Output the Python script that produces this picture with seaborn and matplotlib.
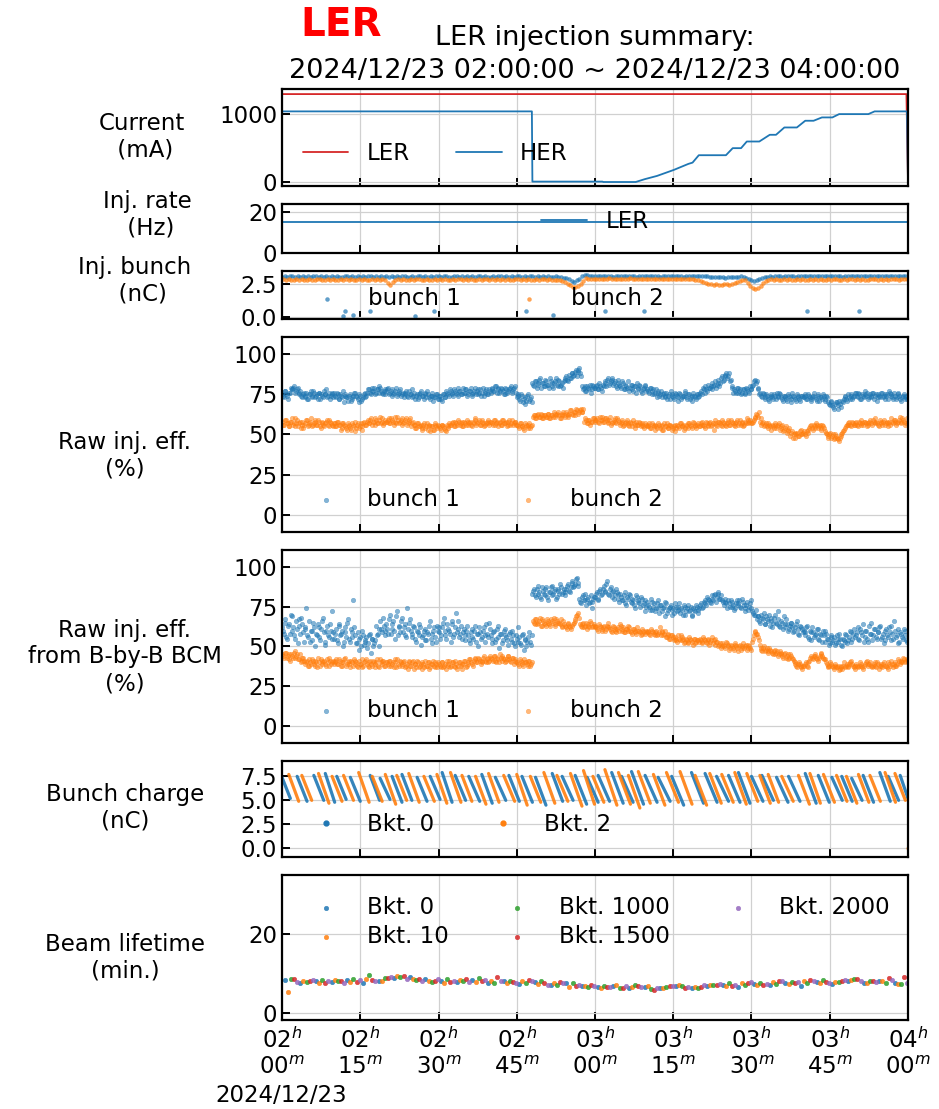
import numpy as np
import pandas as pd
import matplotlib
matplotlib.use('Agg')
import matplotlib.pyplot as plt
import matplotlib.dates as mdates
from matplotlib.lines import Line2D
import seaborn as sns

t_start = pd.Timestamp('2024-12-23 02:00:00')
t_end = pd.Timestamp('2024-12-23 04:00:00')

# ---------------- data (times in minutes after 02:00) ----------------
# stored beam current (mA)
ler_current_min = [0.0, 119.7, 120.0]
ler_current = [1290, 1290, 0]
her_current_min = [0.0, 47.9, 48.0, 61.4, 61.6, 67.8, 69.5, 71.9, 75.1, 77.9, 78.7, 79.9,
                   85.1, 86.4, 88.0, 89.1, 91.5, 93.5, 94.7, 96.3, 98.7, 100.3, 101.9,
                   103.5, 105.5, 106.8, 112.4, 113.6, 119.8, 120.0]
her_current = [1035, 1035, 0, 0, -6, -6, 35, 84, 172, 261, 280, 389,
               389, 493, 493, 591, 591, 690, 690, 798, 798, 897, 897,
               946, 946, 995, 995, 1035, 1035, 0]

# injection rate (Hz)
inj_rate_min = [0.0, 120.0]
inj_rate = [15, 15]

# injected bunch charge (nC), one value every 30 s
inj_bunch1 = [
    3.03, 3.06, 3.01, 3.05, 3.08, 3.02, 3.04, 3.00, 3.07, 3.03, 3.05, 3.01, 3.06, 3.04, 3.02, 3.08, 3.03, 3.05, 3.00, 3.04,
    3.02, 3.06, 3.03, 3.01, 3.05, 3.07, 3.02, 3.04, 3.00, 3.06, 3.03, 3.05, 3.02, 3.07, 3.04, 3.01, 3.05, 3.03, 3.06, 3.02,
    3.04, 3.01, 3.05, 3.03, 3.07, 3.02, 3.04, 3.06, 3.00, 3.03, 3.05, 3.02, 3.06, 3.04, 3.01, 3.05, 3.03, 3.07, 3.02, 3.04,
    3.05, 3.02, 3.04, 3.06, 3.01, 3.03, 3.07, 3.04, 3.02, 3.05, 3.03, 3.06, 3.01, 3.04, 3.02, 3.05, 3.07, 3.03, 3.04, 3.01,
    3.03, 3.05, 3.02, 3.06, 3.04, 3.01, 3.05, 3.03, 3.07, 3.02, 3.04, 3.06, 3.03, 3.05, 3.01, 3.04, 3.06, 3.02, 3.05, 3.03,
    3.04, 3.02, 3.05, 3.03, 3.01, 3.04, 3.02, 2.98, 2.95, 2.90, 2.82, 2.72, 2.66, 2.75, 2.88, 3.10, 3.18, 3.14, 3.09, 3.07,
    3.06, 3.08, 3.05, 3.07, 3.04, 3.09, 3.06, 3.03, 3.07, 3.05, 3.08, 3.04, 3.06, 3.09, 3.05, 3.07, 3.03, 3.06, 3.08, 3.05,
    3.07, 3.04, 3.06, 3.08, 3.05, 3.03, 3.07, 3.05, 3.09, 3.04, 3.06, 3.08, 3.05, 3.07, 3.03, 3.06, 3.04, 3.08, 3.05, 3.07,
    3.05, 3.07, 3.04, 3.06, 3.02, 2.98, 3.00, 2.97, 3.01, 2.99, 2.96, 3.00, 2.98, 3.02, 2.99, 3.03, 3.05, 3.02, 2.95, 2.85,
    2.75, 2.70, 2.78, 2.88, 2.95, 3.00, 3.03, 3.05, 3.02, 3.06, 3.04, 3.07, 3.03, 3.05, 3.08, 3.04, 3.06, 3.03, 3.07, 3.05,
    3.06, 3.04, 3.07, 3.05, 3.08, 3.04, 3.06, 3.09, 3.05, 3.07, 3.04, 3.06, 3.08, 3.05, 3.07, 3.03, 3.06, 3.08, 3.05, 3.07,
    3.05, 3.08, 3.06, 3.04, 3.07, 3.05, 3.09, 3.06, 3.04, 3.07, 3.05, 3.08, 3.06, 3.04, 3.07, 3.09, 3.05, 3.07, 3.06, 3.08,
]
inj_bunch2 = [
    2.82, 2.78, 2.85, 2.80, 2.76, 2.83, 2.79, 2.86, 2.81, 2.77, 2.84, 2.80, 2.78, 2.85, 2.82, 2.79, 2.75, 2.83, 2.80, 2.86,
    2.81, 2.77, 2.84, 2.79, 2.82, 2.76, 2.85, 2.80, 2.78, 2.83, 2.79, 2.86, 2.81, 2.77, 2.84, 2.80, 2.82, 2.78, 2.85, 2.79,
    2.55, 2.40, 2.62, 2.80, 2.83, 2.78, 2.85, 2.81, 2.77, 2.84, 2.79, 2.82, 2.86, 2.80, 2.76, 2.83, 2.81, 2.78, 2.85, 2.80,
    2.83, 2.79, 2.85, 2.81, 2.77, 2.84, 2.80, 2.86, 2.82, 2.78, 2.83, 2.80, 2.85, 2.81, 2.77, 2.84, 2.79, 2.82, 2.86, 2.80,
    2.82, 2.78, 2.85, 2.80, 2.83, 2.77, 2.84, 2.81, 2.79, 2.86, 2.82, 2.78, 2.83, 2.80, 2.85, 2.81, 2.77, 2.84, 2.80, 2.82,
    2.84, 2.80, 2.83, 2.78, 2.81, 2.79, 2.76, 2.70, 2.62, 2.50, 2.38, 2.28, 2.22, 2.30, 2.45, 2.68, 2.90, 2.87, 2.84, 2.86,
    2.88, 2.84, 2.87, 2.83, 2.86, 2.89, 2.85, 2.82, 2.87, 2.84, 2.88, 2.83, 2.86, 2.89, 2.84, 2.87, 2.82, 2.85, 2.88, 2.84,
    2.86, 2.83, 2.87, 2.84, 2.88, 2.82, 2.85, 2.87, 2.83, 2.86, 2.84, 2.88, 2.82, 2.85, 2.87, 2.83, 2.86, 2.84, 2.80, 2.76,
    2.72, 2.66, 2.58, 2.50, 2.46, 2.42, 2.48, 2.44, 2.40, 2.45, 2.50, 2.43, 2.47, 2.52, 2.60, 2.72, 2.80, 2.75, 2.55, 2.35,
    2.18, 2.12, 2.20, 2.35, 2.55, 2.70, 2.78, 2.82, 2.79, 2.84, 2.81, 2.78, 2.83, 2.80, 2.85, 2.81, 2.78, 2.83, 2.80, 2.84,
    2.81, 2.78, 2.84, 2.80, 2.83, 2.79, 2.85, 2.81, 2.78, 2.84, 2.80, 2.82, 2.86, 2.81, 2.79, 2.84, 2.80, 2.83, 2.85, 2.81,
    2.83, 2.80, 2.85, 2.81, 2.78, 2.84, 2.82, 2.86, 2.80, 2.83, 2.81, 2.85, 2.79, 2.84, 2.82, 2.86, 2.80, 2.83, 2.85, 2.82,
]
# bunch 1 shots with almost no charge
inj_low_min = [11.7, 12.1, 13.7, 16.8, 25.5, 29.1, 46.8, 51.9, 62.0, 69.4, 100.7, 110.6]
inj_low = [0.12, 0.50, 0.20, 0.50, 0.12, 0.50, 0.50, 0.20, 0.50, 0.50, 0.50, 0.45]

# raw injection efficiency (%): two interleaved readings, each one value every 20 s
raw_eff_b1 = [
    75, 73, 77, 74, 76, 79, 78, 80, 77, 79, 76, 74, 75, 73, 76, 72, 75, 74, 77, 73, 75, 76, 72, 74, 77, 75, 73, 76, 74, 75,
    76, 73, 75, 72, 74, 77, 74, 73, 71, 75, 72, 74, 76, 73, 70, 74, 72, 75, 73, 76, 78, 75, 77, 79, 76, 78, 80, 77, 75, 78,
    77, 79, 76, 78, 75, 77, 74, 76, 78, 75, 73, 76, 74, 77, 75, 73, 76, 74, 72, 75, 77, 74, 76, 73, 75, 72, 74, 71, 73, 75,
    72, 74, 71, 75, 73, 76, 74, 77, 75, 78, 76, 74, 77, 75, 79, 76, 78, 75, 77, 74, 76, 79, 77, 75, 78, 76, 74, 77, 75, 78,
    76, 79, 77, 80, 78, 76, 79, 77, 75, 78, 77, 79, 76, 78, 80, 73, 75, 71, 74, 72, 69, 74, 71, 73, 82, 80, 83, 81, 84, 79,
    82, 80, 83, 81, 85, 82, 79, 83, 81, 84, 80, 82, 83, 85, 84, 87, 85, 88, 87, 90, 89, 91, 86, 78, 80, 77, 79, 81, 78, 80,
    79, 81, 78, 80, 77, 80, 82, 84, 81, 83, 85, 82, 80, 84, 81, 79, 82, 78, 80, 83, 79, 81, 77, 80, 82, 78, 80, 76, 79, 81,
    78, 76, 79, 77, 75, 78, 76, 74, 77, 75, 73, 76, 74, 72, 75, 73, 76, 74, 71, 75, 73, 74, 76, 72, 75, 73, 71, 74, 72, 75,
    74, 77, 79, 76, 78, 81, 79, 82, 80, 83, 81, 84, 82, 86, 84, 87, 85, 88, 84, 79, 78, 76, 79, 77, 75, 78, 76, 79, 77, 80,
    78, 81, 84, 83, 79, 76, 73, 75, 72, 74, 71, 74, 73, 75, 72, 74, 76, 73, 71, 74, 72, 75, 73, 70, 74, 72, 75, 73, 71, 74,
    73, 75, 72, 74, 71, 73, 76, 72, 74, 71, 73, 75, 72, 74, 70, 68, 71, 67, 69, 70, 66, 69, 71, 72, 74, 71, 73, 75, 72, 74,
    76, 73, 75, 72, 74, 77, 74, 72, 75, 73, 76, 74, 71, 75, 73, 76, 74, 72, 75, 77, 74, 73, 76, 72, 75, 74, 71, 74, 72, 74,
]
raw_eff_b1_b = [
    74, 77, 75, 72, 76, 78, 79, 76, 78, 75, 77, 73, 76, 74, 72, 75, 77, 73, 76, 74, 72, 76, 75, 73, 75, 78, 74, 72, 76, 73,
    74, 76, 72, 75, 73, 70, 75, 73, 74, 71, 73, 76, 74, 72, 75, 71, 73, 76, 74, 78, 76, 79, 77, 75, 78, 76, 79, 76, 77, 75,
    78, 75, 77, 74, 76, 79, 75, 77, 74, 76, 75, 77, 73, 75, 78, 74, 72, 75, 73, 76, 74, 72, 75, 77, 73, 74, 76, 73, 75, 72,
    74, 72, 75, 73, 77, 75, 78, 76, 74, 77, 75, 79, 77, 75, 76, 78, 74, 77, 79, 75, 77, 75, 78, 76, 74, 79, 76, 78, 75, 77,
    78, 77, 80, 76, 79, 77, 78, 75, 79, 76, 78, 80, 77, 79, 76, 74, 72, 75, 70, 73, 71, 75, 72, 70, 81, 83, 79, 82, 85, 82,
    80, 84, 81, 79, 83, 80, 82, 85, 80, 83, 81, 79, 84, 86, 83, 85, 88, 86, 89, 86, 90, 88, 80, 79, 77, 80, 78, 76, 81, 79,
    80, 78, 82, 79, 81, 83, 80, 85, 82, 84, 81, 83, 79, 82, 80, 83, 78, 81, 79, 77, 81, 78, 80, 76, 79, 81, 77, 78, 80, 77,
    77, 79, 75, 78, 76, 73, 77, 75, 73, 76, 74, 72, 75, 77, 74, 72, 75, 73, 76, 72, 74, 77, 73, 75, 72, 74, 76, 73, 75, 73,
    76, 75, 78, 80, 77, 79, 80, 78, 81, 79, 82, 80, 85, 83, 86, 88, 86, 83, 80, 76, 77, 79, 76, 78, 76, 78, 75, 78, 76, 78,
    80, 83, 82, 78, 75, 74, 76, 73, 75, 72, 73, 75, 72, 74, 76, 73, 75, 72, 74, 73, 71, 74, 72, 76, 73, 71, 74, 72, 74, 73,
    74, 72, 75, 73, 72, 74, 73, 71, 75, 73, 72, 74, 71, 73, 69, 70, 68, 66, 70, 68, 71, 67, 70, 73, 72, 75, 72, 74, 73, 76,
    74, 76, 72, 75, 73, 75, 76, 73, 74, 76, 72, 75, 73, 74, 76, 73, 75, 74, 72, 76, 75, 72, 74, 73, 76, 72, 73, 75, 73, 72,
]
raw_eff_b2 = [
    58, 56, 59, 57, 55, 58, 56, 60, 57, 55, 58, 56, 54, 57, 59, 56, 58, 55, 57, 59, 56, 58, 54, 57, 55, 58, 56, 59, 57, 55,
    57, 55, 58, 56, 54, 57, 55, 53, 56, 54, 57, 55, 52, 56, 54, 57, 55, 58, 56, 59, 57, 60, 58, 56, 59, 57, 61, 58, 56, 59,
    58, 60, 57, 59, 56, 58, 61, 57, 59, 56, 58, 60, 57, 59, 55, 58, 56, 54, 57, 55, 53, 56, 54, 57, 55, 52, 55, 53, 56, 54,
    55, 53, 56, 54, 52, 55, 57, 56, 58, 55, 57, 59, 56, 58, 55, 57, 59, 56, 58, 55, 57, 60, 57, 59, 56, 58, 55, 57, 59, 56,
    58, 56, 59, 57, 55, 58, 56, 59, 57, 55, 58, 56, 59, 57, 58, 56, 54, 57, 55, 53, 56, 54, 57, 55, 61, 62, 60, 63, 61, 62,
    60, 62, 61, 63, 60, 62, 64, 61, 63, 62, 60, 63, 62, 64, 61, 63, 65, 62, 64, 66, 63, 65, 64, 66, 60, 57, 59, 56, 58, 60,
    58, 60, 57, 59, 61, 58, 60, 57, 59, 56, 58, 60, 57, 59, 56, 58, 55, 57, 59, 56, 58, 55, 57, 54, 56, 58, 55, 57, 54, 56,
    55, 57, 54, 56, 53, 55, 57, 54, 56, 53, 55, 57, 54, 56, 53, 55, 52, 56, 54, 57, 55, 53, 56, 54, 57, 55, 58, 56, 54, 57,
    55, 58, 56, 54, 57, 55, 58, 56, 53, 57, 55, 58, 56, 59, 57, 55, 58, 56, 59, 57, 55, 58, 56, 59, 57, 55, 58, 60, 57, 59,
    57, 59, 60, 62, 64, 60, 57, 55, 57, 54, 56, 53, 55, 57, 54, 56, 53, 55, 52, 54, 51, 53, 49, 52, 50, 48, 51, 49, 53, 50,
    52, 49, 51, 54, 56, 53, 55, 57, 54, 56, 53, 55, 52, 50, 48, 51, 49, 47, 50, 48, 46, 49, 51, 53, 55, 56, 58, 55, 57, 56,
    58, 55, 57, 59, 56, 58, 55, 57, 59, 56, 58, 60, 57, 55, 58, 56, 59, 57, 55, 58, 60, 57, 59, 56, 58, 61, 57, 59, 56, 60,
]
raw_eff_b2_b = [
    56, 59, 57, 55, 58, 60, 57, 55, 59, 57, 54, 58, 56, 59, 55, 57, 60, 56, 58, 56, 59, 55, 58, 56, 57, 59, 55, 58, 56, 57,
    55, 58, 56, 53, 57, 56, 54, 57, 55, 53, 56, 58, 54, 57, 55, 53, 57, 56, 58, 57, 59, 56, 58, 60, 57, 59, 57, 60, 57, 58,
    59, 57, 60, 58, 61, 57, 59, 58, 60, 57, 59, 56, 58, 60, 57, 56, 54, 57, 55, 56, 54, 57, 55, 53, 56, 55, 53, 57, 55, 56,
    54, 56, 55, 53, 56, 54, 56, 57, 55, 58, 56, 58, 57, 55, 58, 56, 58, 57, 56, 58, 59, 56, 58, 56, 59, 57, 56, 58, 57, 58,
    57, 59, 56, 58, 57, 56, 59, 57, 58, 56, 59, 57, 56, 58, 56, 55, 57, 55, 54, 57, 55, 56, 54, 56, 62, 60, 62, 61, 63, 60,
    62, 61, 63, 60, 62, 61, 63, 62, 64, 60, 62, 64, 61, 63, 62, 65, 63, 64, 62, 65, 64, 66, 64, 58, 59, 57, 59, 58, 60, 59,
    59, 58, 61, 59, 58, 60, 59, 58, 61, 57, 59, 58, 60, 58, 57, 59, 56, 58, 57, 55, 57, 59, 56, 58, 56, 57, 56, 55, 57, 55,
    56, 54, 57, 55, 56, 54, 56, 55, 53, 57, 55, 54, 56, 55, 54, 56, 54, 55, 57, 55, 56, 54, 55, 57, 56, 54, 57, 55, 56, 55,
    57, 56, 55, 58, 56, 57, 55, 57, 59, 56, 58, 57, 55, 58, 56, 57, 59, 56, 58, 56, 57, 59, 57, 56, 58, 56, 57, 59, 58, 57,
    58, 61, 63, 61, 58, 56, 58, 56, 55, 57, 55, 56, 54, 56, 55, 57, 54, 56, 53, 55, 52, 54, 51, 48, 51, 50, 49, 52, 50, 51,
    50, 52, 53, 55, 54, 56, 54, 56, 55, 54, 56, 54, 51, 49, 50, 48, 50, 48, 49, 47, 48, 50, 52, 54, 56, 57, 56, 58, 56, 57,
    56, 58, 56, 57, 58, 57, 56, 58, 57, 59, 57, 58, 56, 59, 57, 58, 56, 58, 57, 56, 58, 59, 58, 57, 59, 58, 60, 58, 57, 58,
]

# raw injection efficiency from bunch-by-bunch BCM (%): two interleaved readings every 20 s
bcm_eff_b1 = [
    62, 58, 67, 55, 64, 70, 60, 57, 66, 52, 63, 68, 59, 61, 74, 56, 53, 60, 65, 50, 57, 62, 54, 66, 59, 51, 63, 56, 60, 72,
    55, 61, 52, 64, 58, 50, 62, 56, 67, 53, 59, 79, 57, 52, 48, 56, 60, 51, 54, 49, 57, 46, 55, 52, 63, 58, 50, 61, 68, 57,
    64, 58, 70, 61, 66, 55, 72, 63, 59, 68, 62, 57, 74, 65, 60, 56, 62, 53, 59, 64, 51, 57, 61, 54, 58, 66, 52, 60, 56, 63,
    59, 55, 62, 68, 57, 64, 60, 53, 66, 58, 71, 61, 56, 63, 59, 54, 60, 57, 52, 61, 55, 63, 58, 50, 59, 56, 62, 53, 58, 65,
    57, 52, 60, 55, 63, 49, 58, 54, 61, 56, 51, 59, 53, 57, 50, 55, 62, 52, 57, 48, 55, 53, 59, 51, 83, 86, 81, 88, 84, 80,
    85, 82, 87, 79, 84, 88, 83, 86, 81, 85, 89, 83, 86, 84, 88, 85, 87, 91, 88, 92, 90, 80, 77, 82, 79, 76, 81, 78, 74, 80,
    81, 84, 79, 86, 83, 88, 85, 91, 82, 87, 84, 80, 86, 83, 78, 81, 79, 84, 76, 80, 82, 77, 79, 74, 81, 78, 75, 80, 77, 72,
    78, 75, 80, 73, 77, 74, 79, 71, 76, 74, 69, 77, 73, 75, 70, 74, 77, 72, 75, 71, 73, 76, 70, 74, 72, 75, 69, 73, 76, 71,
    74, 77, 75, 79, 76, 80, 78, 82, 79, 83, 81, 84, 80, 79, 76, 78, 74, 77, 79, 75, 73, 77, 76, 79, 74, 78, 72, 76, 73, 77,
    74, 71, 70, 67, 69, 65, 68, 71, 64, 67, 70, 66, 62, 68, 65, 72, 63, 66, 61, 64, 67, 60, 63, 65, 59, 62, 66, 58, 63, 61,
    60, 57, 63, 55, 59, 62, 56, 58, 61, 54, 57, 60, 53, 58, 55, 52, 56, 54, 51, 57, 53, 55, 50, 54, 58, 52, 56, 59, 55, 61,
    57, 62, 54, 59, 64, 56, 60, 53, 58, 65, 57, 61, 55, 59, 63, 56, 52, 60, 57, 62, 54, 58, 66, 56, 61, 53, 58, 55, 60, 54,
]
bcm_eff_b1_b = [
    60, 65, 56, 63, 58, 69, 62, 55, 61, 67, 58, 64, 53, 62, 57, 66, 60, 54, 62, 58, 64, 56, 61, 68, 53, 60, 57, 64, 55, 59,
    58, 54, 63, 57, 60, 53, 59, 65, 55, 61, 56, 62, 52, 59, 55, 50, 57, 53, 56, 52, 58, 55, 50, 54, 57, 61, 66, 59, 63, 60,
    61, 67, 58, 64, 60, 69, 57, 62, 66, 59, 64, 56, 61, 67, 58, 63, 55, 60, 57, 62, 56, 60, 54, 59, 63, 55, 58, 62, 53, 60,
    62, 57, 65, 60, 55, 61, 58, 64, 56, 62, 59, 66, 58, 55, 61, 57, 63, 54, 59, 56, 60, 53, 58, 62, 55, 60, 57, 64, 56, 61,
    55, 59, 53, 61, 56, 58, 52, 60, 57, 54, 58, 55, 60, 52, 57, 53, 56, 51, 58, 54, 50, 56, 53, 57, 85, 82, 86, 83, 81, 87,
    83, 86, 81, 84, 87, 82, 85, 80, 86, 83, 87, 84, 82, 86, 89, 84, 90, 87, 89, 93, 88, 78, 81, 79, 83, 80, 77, 82, 78, 81,
    83, 80, 85, 82, 86, 84, 89, 83, 86, 81, 85, 82, 84, 80, 83, 79, 82, 77, 81, 83, 78, 80, 76, 82, 79, 77, 81, 76, 79, 75,
    76, 73, 78, 75, 72, 77, 74, 76, 72, 75, 78, 71, 74, 76, 73, 71, 75, 73, 77, 74, 70, 75, 72, 76, 73, 70, 74, 72, 75, 73,
    76, 74, 78, 77, 81, 79, 77, 80, 82, 78, 83, 80, 82, 78, 80, 77, 79, 75, 78, 76, 74, 79, 77, 75, 80, 76, 74, 78, 75, 79,
    72, 70, 73, 69, 66, 70, 67, 64, 69, 66, 63, 68, 65, 70, 64, 67, 62, 65, 69, 62, 64, 61, 65, 62, 60, 64, 61, 57, 62, 59,
    59, 62, 56, 60, 54, 59, 57, 61, 55, 58, 53, 57, 60, 55, 51, 57, 53, 56, 52, 55, 58, 51, 55, 53, 57, 54, 60, 53, 58, 56,
    59, 55, 61, 57, 53, 60, 55, 63, 58, 54, 61, 56, 59, 62, 55, 58, 54, 61, 56, 59, 63, 55, 60, 57, 52, 59, 56, 61, 57, 53,
]
bcm_eff_b2 = [
    45, 43, 46, 44, 42, 45, 43, 47, 44, 42, 45, 41, 43, 39, 41, 38, 40, 42, 39, 41, 37, 40, 42, 39, 41, 38, 40, 43, 39, 41,
    40, 42, 39, 41, 38, 40, 43, 39, 41, 37, 40, 42, 39, 38, 41, 39, 37, 40, 42, 38, 40, 39, 41, 37, 40, 38, 42, 39, 41, 38,
    40, 38, 41, 39, 37, 40, 42, 38, 40, 39, 41, 38, 36, 40, 38, 41, 39, 37, 40, 38, 36, 39, 41, 38, 40, 37, 39, 38, 40, 37,
    39, 37, 40, 38, 36, 39, 41, 38, 40, 37, 39, 38, 40, 36, 39, 41, 38, 40, 42, 39, 41, 43, 40, 42, 39, 41, 44, 40, 43, 41,
    43, 41, 44, 40, 42, 45, 41, 43, 40, 42, 44, 41, 43, 39, 42, 40, 38, 41, 39, 42, 40, 38, 41, 39, 66, 64, 67, 65, 68, 63,
    66, 64, 67, 65, 63, 66, 68, 64, 66, 65, 67, 63, 64, 62, 65, 63, 61, 64, 66, 69, 71, 64, 62, 65, 63, 61, 64, 66, 62, 64,
    63, 61, 64, 62, 60, 63, 61, 65, 62, 60, 63, 61, 59, 62, 64, 60, 62, 59, 61, 63, 60, 58, 61, 59, 62, 60, 57, 61, 59, 60,
    60, 58, 61, 59, 57, 60, 58, 62, 59, 57, 60, 56, 58, 55, 57, 54, 56, 53, 55, 57, 54, 52, 55, 53, 56, 54, 51, 55, 53, 54,
    55, 53, 56, 54, 52, 55, 53, 56, 54, 51, 53, 51, 49, 52, 50, 53, 51, 48, 51, 49, 52, 50, 47, 51, 49, 52, 50, 48, 51, 49,
    53, 57, 60, 58, 54, 49, 47, 50, 48, 46, 49, 47, 45, 48, 46, 44, 47, 45, 43, 46, 44, 42, 45, 43, 41, 39, 37, 40, 38, 36,
    38, 40, 37, 41, 44, 42, 45, 43, 41, 44, 46, 43, 42, 39, 37, 40, 38, 36, 39, 37, 35, 38, 36, 40, 38, 37, 39, 41, 38, 36,
    39, 37, 40, 38, 36, 39, 41, 38, 40, 37, 39, 38, 40, 36, 39, 37, 40, 38, 36, 39, 41, 37, 40, 38, 42, 39, 41, 43, 40, 42,
]
bcm_eff_b2_b = [
    44, 46, 43, 45, 41, 44, 46, 43, 45, 42, 40, 43, 41, 40, 38, 42, 39, 41, 38, 40, 43, 38, 41, 40, 39, 42, 38, 41, 40, 39,
    41, 39, 42, 38, 40, 42, 38, 40, 39, 41, 38, 41, 40, 37, 39, 42, 38, 41, 39, 37, 41, 38, 40, 39, 42, 37, 40, 41, 38, 40,
    39, 41, 38, 40, 42, 37, 39, 41, 38, 40, 37, 39, 41, 38, 40, 36, 39, 41, 37, 39, 40, 37, 38, 40, 36, 39, 41, 37, 39, 40,
    38, 40, 37, 39, 41, 38, 37, 40, 38, 41, 36, 40, 38, 39, 41, 37, 39, 42, 40, 38, 42, 40, 43, 41, 40, 43, 41, 42, 40, 44,
    42, 44, 41, 43, 40, 43, 44, 42, 41, 44, 42, 40, 43, 41, 40, 39, 42, 40, 38, 40, 39, 41, 38, 40, 65, 67, 64, 66, 63, 67,
    65, 63, 66, 64, 67, 65, 63, 67, 65, 64, 62, 66, 63, 61, 64, 62, 63, 65, 67, 70, 68, 63, 64, 62, 65, 63, 62, 65, 63, 62,
    62, 60, 63, 61, 62, 60, 63, 62, 61, 59, 62, 60, 61, 60, 63, 61, 59, 61, 60, 62, 59, 61, 60, 58, 60, 59, 58, 60, 58, 59,
    59, 57, 60, 58, 59, 57, 59, 57, 60, 58, 56, 57, 55, 57, 56, 55, 54, 57, 54, 56, 55, 53, 54, 52, 55, 53, 55, 52, 54, 53,
    54, 52, 55, 53, 54, 51, 54, 52, 55, 53, 50, 52, 50, 51, 49, 52, 50, 49, 50, 48, 51, 49, 50, 48, 50, 49, 51, 49, 50, 48,
    55, 59, 58, 56, 51, 48, 49, 47, 49, 47, 48, 46, 47, 45, 47, 45, 46, 44, 45, 43, 45, 43, 44, 42, 40, 38, 39, 39, 37, 38,
    39, 38, 40, 43, 43, 44, 44, 42, 43, 45, 44, 42, 40, 38, 38, 39, 37, 38, 37, 38, 36, 37, 38, 37, 39, 38, 40, 39, 37, 38,
    38, 38, 39, 37, 38, 40, 39, 39, 38, 38, 40, 37, 39, 38, 38, 39, 38, 37, 40, 38, 39, 39, 38, 39, 41, 40, 40, 42, 41, 41,
]

# bucket charge (nC): each decay stroke from (start, high) to (end, low)
bkt0_start = [0.0, 2.9, 6.1, 8.3, 10.5, 13.1, 16.9, 18.8, 21.1, 23.0, 25.9, 28.4, 30.7, 33.2, 35.8, 38.3, 40.9,
              43.5, 46.0, 48.6, 51.8, 53.7, 56.2, 58.5, 60.6, 63.2, 65.1, 67.0, 69.6, 72.1, 74.7, 78.5, 81.1,
              83.3, 85.6, 87.5, 90.0, 92.0, 94.8, 97.1, 100.3, 102.8, 105.4, 107.3, 109.2, 111.4, 114.6, 116.2, 118.5]
bkt0_end = [1.6, 4.8, 8.0, 10.1, 12.3, 15.0, 18.7, 20.7, 23.0, 24.9, 27.8, 30.3, 32.6, 35.2, 37.9, 40.3, 42.9,
            45.5, 48.0, 50.6, 53.8, 55.8, 58.4, 60.6, 62.8, 65.4, 67.3, 69.3, 71.9, 74.4, 77.0, 80.8, 83.4,
            85.6, 87.8, 89.7, 92.2, 94.2, 97.0, 99.3, 102.4, 104.9, 107.4, 109.3, 111.2, 113.4, 116.6, 118.2, 120.0]
bkt0_high = [7.4, 7.5, 7.6, 7.8, 7.5, 7.4, 7.6, 7.3, 7.5, 7.7, 7.4, 7.5, 7.9, 7.6, 7.5, 7.7, 7.4,
             7.6, 7.5, 7.4, 7.8, 7.5, 7.6, 7.4, 7.6, 7.9, 7.5, 8.0, 7.6, 7.4, 7.5, 7.9, 7.8,
             7.5, 7.6, 7.9, 7.5, 7.6, 7.4, 7.5, 7.8, 7.6, 7.4, 7.5, 7.3, 7.6, 7.9, 7.5, 7.6]
bkt0_low = [5.2, 4.9, 5.0, 4.8, 5.1, 4.9, 5.0, 5.1, 4.8, 5.0, 4.9, 5.1, 4.8, 5.0, 4.9, 4.7, 5.0,
            4.9, 4.8, 4.5, 4.9, 5.0, 4.6, 4.8, 4.9, 4.7, 4.8, 4.6, 4.8, 4.9, 4.5, 4.7, 4.8,
            4.9, 4.8, 4.7, 4.9, 5.0, 4.8, 4.9, 4.7, 4.8, 5.0, 4.9, 5.0, 4.8, 4.9, 5.0, 5.2]
bkt2_start = [1.3, 3.8, 7.0, 9.6, 11.8, 14.7, 17.3, 19.8, 22.0, 24.3, 27.2, 29.7, 32.3, 34.5, 37.1, 39.6,
              42.5, 45.0, 47.6, 50.2, 52.7, 55.3, 57.8, 59.6, 61.9, 64.5, 66.4, 68.3, 71.2, 73.7, 76.3, 79.2,
              82.0, 84.3, 86.8, 89.1, 91.6, 93.2, 95.8, 99.0, 101.2, 103.8, 106.3, 108.2, 110.5, 112.7, 115.6, 117.5]
bkt2_end = [3.2, 5.7, 9.0, 11.5, 13.7, 16.7, 19.2, 21.8, 23.9, 26.3, 29.2, 31.6, 34.3, 36.4, 39.1, 41.6,
            44.6, 47.0, 49.6, 52.3, 54.8, 57.5, 59.9, 61.7, 64.2, 66.8, 68.6, 70.6, 73.4, 76.0, 78.6, 81.4,
            84.2, 86.5, 89.0, 91.2, 93.6, 95.2, 98.0, 101.1, 103.2, 105.9, 108.3, 110.2, 112.5, 114.7, 117.6, 119.5]
bkt2_high = [7.7, 7.6, 7.8, 7.5, 7.6, 7.9, 7.5, 7.7, 7.6, 7.8, 7.5, 7.7, 7.9, 7.6, 7.5, 7.8,
             7.6, 7.7, 7.5, 7.9, 7.6, 7.8, 8.1, 7.5, 8.2, 7.9, 7.6, 8.0, 7.7, 7.9, 8.0, 7.6,
             7.8, 7.7, 7.9, 7.8, 7.6, 7.7, 7.5, 7.6, 7.8, 7.7, 7.6, 7.5, 7.7, 7.6, 7.9, 7.8]
bkt2_low = [4.9, 5.0, 4.7, 4.9, 5.0, 4.8, 4.9, 4.6, 5.0, 4.8, 4.9, 4.7, 4.8, 4.9, 4.6, 4.8,
            4.9, 4.5, 4.8, 4.7, 4.9, 4.4, 4.6, 4.8, 4.5, 4.6, 4.2, 4.7, 4.5, 4.8, 4.6, 4.5,
            4.7, 4.8, 4.6, 4.9, 4.7, 4.8, 4.9, 4.6, 4.7, 4.8, 4.9, 4.7, 4.8, 4.9, 4.8, 5.0]
bkt2_last_min = [120.0]
bkt2_last = [0.0]

# beam lifetime (min.), one value every 3 min per bucket
life_labels = ['Bkt. 0', 'Bkt. 10', 'Bkt. 1000', 'Bkt. 1500', 'Bkt. 2000']
life_offsets = [0.5, 1.1, 1.7, 2.3, 2.9]
life_values = [
    [8.3, 7.6, 8.1, 7.9, 8.4, 7.7, 8.2, 8.9, 9.2, 8.5, 8.0, 7.8, 8.3, 7.6, 8.1, 7.4, 7.9, 7.2, 7.7, 6.8,
     6.5, 6.9, 6.3, 6.7, 6.4, 6.8, 6.2, 6.9, 7.1, 6.6, 7.3, 7.0, 7.5, 6.9, 7.8, 7.4, 8.0, 7.6, 8.2, 7.5],
    [5.4, 8.0, 7.5, 8.3, 7.8, 8.6, 8.1, 9.4, 8.7, 8.2, 7.7, 8.4, 7.9, 8.2, 7.5, 8.0, 7.3, 7.7, 6.6, 6.9,
     6.4, 7.1, 6.5, 6.8, 6.2, 7.0, 6.7, 7.2, 6.9, 7.5, 7.1, 7.8, 7.3, 8.1, 7.6, 7.9, 8.4, 7.7, 8.0, 7.4],
    [8.6, 7.9, 8.4, 8.0, 8.7, 9.5, 8.9, 9.1, 8.4, 7.9, 8.6, 8.1, 8.8, 7.7, 8.2, 7.6, 8.0, 7.1, 7.5, 6.7,
     6.9, 6.4, 7.0, 6.1, 6.6, 6.9, 6.3, 7.2, 7.5, 7.0, 7.7, 7.3, 7.9, 7.6, 8.3, 7.8, 8.6, 8.0, 7.7, 7.3],
    [8.5, 8.0, 7.7, 8.2, 7.9, 8.3, 8.8, 9.3, 8.6, 8.1, 7.8, 8.5, 8.0, 9.0, 7.8, 8.3, 7.5, 7.9, 6.9, 7.2,
     6.6, 6.3, 6.8, 5.8, 6.9, 6.2, 6.6, 7.2, 6.8, 7.6, 7.2, 8.0, 7.7, 8.4, 7.9, 8.2, 8.7, 8.1, 8.9, 9.0],
    [7.9, 8.4, 8.0, 7.6, 8.3, 8.0, 9.1, 8.5, 8.2, 8.7, 8.1, 7.9, 8.4, 8.0, 7.6, 8.1, 7.2, 7.6, 7.0, 6.8,
     6.5, 6.9, 6.6, 6.3, 6.8, 6.5, 7.0, 7.4, 7.1, 7.9, 7.4, 8.2, 7.8, 8.1, 7.5, 8.4, 8.0, 7.8, 8.3, 7.6],
]

panel_labels = ['Current\n (mA)', 'Inj. rate\n (Hz)', 'Inj. bunch\n  (nC)', 'Raw inj. eff.\n(%)',
                'Raw inj. eff.\nfrom B-by-B BCM\n(%)', 'Bunch charge\n(nC)', 'Beam lifetime\n(min.)']


def to_time(minutes):
    return t_start + pd.to_timedelta(np.asarray(minutes, dtype=float), unit='min')


def sampled(values, offset=0.0, span=120.0):
    n = len(values)
    return to_time(np.arange(n) * span / n + offset)


def strokes(t0, t1, hi, lo):
    n = len(t0)
    return pd.DataFrame({'time': to_time(list(t0) + list(t1)),
                         'charge': list(hi) + list(lo),
                         'stroke': list(range(n)) * 2})


# ---------------- style ----------------
fs = 16.5
rc = {'axes.edgecolor': 'black', 'axes.linewidth': 1.6,
      'grid.color': '#d0d0d0', 'grid.linewidth': 0.9,
      'xtick.direction': 'in', 'ytick.direction': 'in',
      'xtick.bottom': True, 'ytick.left': True,
      'xtick.major.size': 5.5, 'ytick.major.size': 5.5,
      'xtick.major.width': 1.4, 'ytick.major.width': 1.4,
      'xtick.major.pad': 5.0,
      'xtick.color': 'black', 'ytick.color': 'black',
      'text.color': 'black', 'axes.labelcolor': 'black',
      'xtick.labelsize': fs, 'ytick.labelsize': fs, 'legend.fontsize': fs,
      'axes.titlesize': 19.5}
sns.set_theme(style='whitegrid', rc=rc)
plt.rcParams['font.family'] = ['DejaVu Sans']

c_blue, c_orange, c_green, c_red, c_purple = sns.color_palette('tab10')[:5]
life_colors = [c_blue, c_orange, c_green, c_red, c_purple]

fig = plt.figure(figsize=(9.39, 11.09), dpi=100)
gs = fig.add_gridspec(7, 1, height_ratios=[97, 49, 48, 195, 193, 96, 145], hspace=0.153,
                      left=282 / 939, right=908 / 939, top=1 - 89 / 1109, bottom=1 - 1020 / 1109)
axes = []
for i in range(7):
    axes.append(fig.add_subplot(gs[i], sharex=axes[0] if axes else None))
ax_cur, ax_rate, ax_inj, ax_raw, ax_bcm, ax_bkt, ax_life = axes

# current
sns.lineplot(x=to_time(ler_current_min), y=ler_current, color=c_red, lw=1.3, label='LER',
             estimator=None, sort=False, ax=ax_cur)
sns.lineplot(x=to_time(her_current_min), y=her_current, color=c_blue, lw=1.3, label='HER',
             estimator=None, sort=False, ax=ax_cur)
ax_cur.set_ylim(-65, 1365)
ax_cur.set_yticks([0, 1000])
ax_cur.legend(loc='lower left', ncol=2, frameon=False)

# injection rate
sns.lineplot(x=to_time(inj_rate_min), y=inj_rate, color=c_blue, lw=1.3, label='LER',
             estimator=None, sort=False, ax=ax_rate)
ax_rate.set_ylim(0, 24)
ax_rate.set_yticks([0, 20])
ax_rate.legend(loc='center', bbox_to_anchor=(0.5, 0.64), frameon=False)

# injected bunch charge
sc = dict(s=8, alpha=0.7, linewidth=0.3)
sns.scatterplot(x=sampled(inj_bunch1), y=inj_bunch1, color=c_blue, edgecolor=c_blue, label='bunch 1', ax=ax_inj, **sc)
sns.scatterplot(x=sampled(inj_bunch2, 0.25), y=inj_bunch2, color=c_orange, edgecolor=c_orange, label='bunch 2', ax=ax_inj, **sc)
sns.scatterplot(x=to_time(inj_low_min), y=inj_low, color=c_blue, edgecolor=c_blue, ax=ax_inj, **sc)
ax_inj.set_ylim(-0.13, 3.45)
ax_inj.set_yticks([0.0, 2.5])
ax_inj.set_yticklabels(['0.0', '2.5'])
ax_inj.legend(loc='lower left', ncol=2, frameon=False, borderaxespad=0.0, bbox_to_anchor=(0.02, 0.0))

# raw injection efficiency (two readings per series share one colour)
sc = dict(s=11, alpha=0.55, linewidth=0.3)
eff_panels = [(ax_raw, raw_eff_b1, raw_eff_b1_b, raw_eff_b2, raw_eff_b2_b),
              (ax_bcm, bcm_eff_b1, bcm_eff_b1_b, bcm_eff_b2, bcm_eff_b2_b)]
for ax, b1, b1b, b2, b2b in eff_panels:
    sns.scatterplot(x=sampled(b1), y=b1, color=c_blue, edgecolor=c_blue, label='bunch 1', ax=ax, **sc)
    sns.scatterplot(x=sampled(b1b, 1 / 6), y=b1b, color=c_blue, edgecolor=c_blue, ax=ax, **sc)
    sns.scatterplot(x=sampled(b2, 1 / 12), y=b2, color=c_orange, edgecolor=c_orange, label='bunch 2', ax=ax, **sc)
    sns.scatterplot(x=sampled(b2b, 1 / 4), y=b2b, color=c_orange, edgecolor=c_orange, ax=ax, **sc)
    ax.set_ylim(-10.5, 110.5)
    ax.set_yticks([0, 25, 50, 75, 100])
    ax.legend(loc='lower left', ncol=2, frameon=False)

# bucket charge
sns.lineplot(data=strokes(bkt0_start, bkt0_end, bkt0_high, bkt0_low), x='time', y='charge', units='stroke',
             estimator=None, color=c_blue, lw=2.3, alpha=0.9, legend=False, ax=ax_bkt)
sns.lineplot(data=strokes(bkt2_start, bkt2_end, bkt2_high, bkt2_low), x='time', y='charge', units='stroke',
             estimator=None, color=c_orange, lw=2.3, alpha=0.9, legend=False, ax=ax_bkt)
sns.scatterplot(x=to_time(bkt2_last_min), y=bkt2_last, color=c_orange, s=8, linewidth=0, ax=ax_bkt)
ax_bkt.set_ylim(-0.9, 9.1)
ax_bkt.set_yticks([0.0, 2.5, 5.0, 7.5])
ax_bkt.set_yticklabels(['0.0', '2.5', '5.0', '7.5'])
bkt_handles = [Line2D([], [], ls='', marker='o', ms=3.5, color=c_blue),
               Line2D([], [], ls='', marker='o', ms=3.5, color=c_orange)]
ax_bkt.legend(bkt_handles, ['Bkt. 0', 'Bkt. 2'], loc='lower left', ncol=2, frameon=False)

# beam lifetime
for lab, off, vals, col in zip(life_labels, life_offsets, life_values, life_colors):
    sns.scatterplot(x=sampled(vals, off), y=vals, color=col, edgecolor=col, s=11, alpha=0.85,
                    linewidth=0.3, label=lab, ax=ax_life)
ax_life.set_ylim(-1.8, 35)
ax_life.set_yticks([0, 20])
ax_life.legend(loc='upper left', ncol=3, frameon=False, labelspacing=0.3)

# shared time axis
for ax in axes:
    ax.set_xlim(t_start, t_end)
    ax.set_xlabel('')
    ax.set_ylabel('')
    ax.xaxis.set_major_locator(mdates.MinuteLocator(byminute=[0, 15, 30, 45]))
    ax.tick_params(axis='x', labelbottom=False)
    ax.grid(True)
ax_life.tick_params(axis='x', labelbottom=True)
ax_life.xaxis.set_major_formatter(mdates.DateFormatter('%H$^h$\n%M$^m$'))

# texts
ax_cur.set_title('2024/12/23 02:00:00 ~ 2024/12/23 04:00:00', pad=8)
fig.text(595 / 939, 1 - 38 / 1109, 'LER injection summary:', fontsize=19.5, ha='center', va='center')
fig.text(341 / 939, 1 - 25 / 1109, 'LER', color='red', fontsize=28, fontweight='bold', ha='center', va='center')
fig.text(281 / 939, 1 - 1096 / 1109, '2024/12/23', fontsize=fs, ha='center', va='center')
label_pos = [(142, 137), (147, 215), (135, 281), (125, 456), (125, 657), (125, 808), (125, 958)]
for text, (px, py) in zip(panel_labels, label_pos):
    fig.text(px / 939, 1 - py / 1109, text, fontsize=fs, ha='center', va='center', multialignment='center')

fig.savefig('out.png', dpi=100)
